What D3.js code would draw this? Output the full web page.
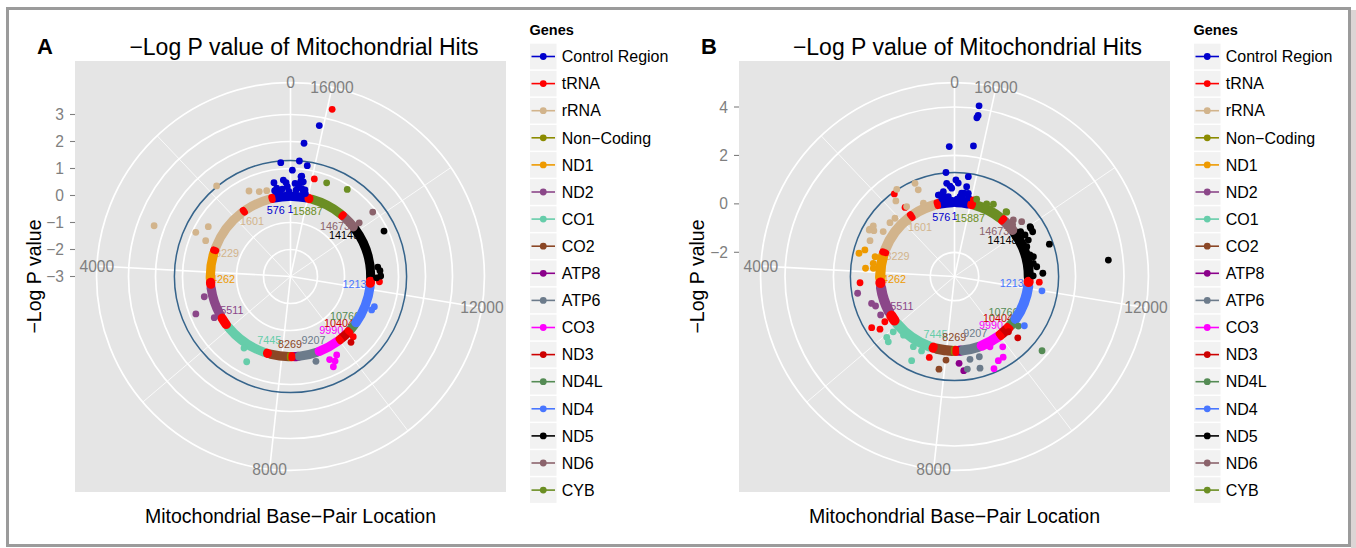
<!DOCTYPE html>
<html>
<head>
<meta charset="utf-8">
<script src="https://cdn.jsdelivr.net/npm/d3@7"></script>
<style>
body { margin: 0; background: #fff; }
svg { display: block; font-family: "Liberation Sans", Arial, Helvetica, sans-serif; }
</style>
</head>
<body>
<svg id="chart" width="1356" height="548"></svg>
<script>
// mitochondrial genome length (theta domain)
var genome = 16569;

var geneKeys = ["CR", "tRNA", "rRNA", "NC", "ND1", "ND2", "CO1", "CO2", "ATP8", "ATP6", "CO3", "ND3", "ND4L", "ND4", "ND5", "ND6", "CYB"];
var geneNames = ["Control Region", "tRNA", "rRNA", "Non\u2212Coding", "ND1", "ND2", "CO1", "CO2", "ATP8", "ATP6", "CO3", "ND3", "ND4L", "ND4", "ND5", "ND6", "CYB"];
var geneColors = ["#0000CD", "#FF0000", "#D2B48C", "#8B8B00", "#EE9A00", "#8B4789", "#66CDAA", "#8B4726", "#8B008B", "#6C7B8B", "#FF00FF", "#CD0000", "#548B54", "#4876FF", "#000000", "#8B636C", "#6B8E23"];

// gene regions [start, end, gene]
var segments = [
    [16024, 16569, "CR"], [0, 576, "CR"], [648, 1601, "rRNA"], [1671, 3229, "rRNA"], [3307, 4262, "ND1"],
    [4470, 5511, "ND2"], [5904, 7445, "CO1"], [7586, 8269, "CO2"], [8270, 8294, "NC"], [8366, 8572, "ATP8"],
    [8527, 9207, "ATP6"], [9207, 9990, "CO3"], [10059, 10404, "ND3"], [10470, 10766, "ND4L"], [10760, 12137, "ND4"],
    [12337, 14148, "ND5"], [14149, 14673, "ND6"], [14747, 15887, "CYB"],
    [577, 647, "tRNA"], [1602, 1670, "tRNA"], [3230, 3304, "tRNA"], [4263, 4469, "tRNA"], [5512, 5903, "tRNA"],
    [7446, 7585, "tRNA"], [8295, 8364, "tRNA"], [9991, 10058, "tRNA"], [10405, 10469, "tRNA"], [12138, 12336, "tRNA"],
    [14674, 14742, "tRNA"], [15888, 16023, "tRNA"]
];

// gene boundary labels [bp, gene]
var boundaryLabels = [
    [1, "CR"], [576, "CR"], [1601, "rRNA"], [3229, "rRNA"], [4262, "ND1"], [5511, "ND2"], [7445, "CO1"], [8269, "CO2"],
    [9207, "ATP6"], [9990, "CO3"], [10404, "ND3"], [10766, "ND4L"], [12137, "ND4"], [14148, "ND5"], [14673, "ND6"], [15887, "CYB"]
];
var labelLevel = -0.5;

var thetaBreaks = [0, 4000, 8000, 12000, 16000];
var thetaMinor = [2000, 6000, 10000, 14000];
var ticksA = [-3, -2, -1, 0, 1, 2, 3];
var ticksB = [-2, 0, 2, 4];
var rangeA = [-3.0, 3.385];
var rangeB = [-3.0, 4.12];
var bandA = [-0.2, 0.14];
var bandB = [-0.14, 0.28];
var threshold = 1.3;

// hits off the main ring [bp, -log P, gene]
var pointsA = [
    [16072, 2.69, "CR"], [16302, 1.96, "CR"], [16367, 1.29, "CR"], [16173, 1.15, "CR"], [225, 1.23, "CR"], [16523, 0.94, "CR"],
    [16293, 0.72, "CR"], [16275, 0.74, "CR"], [460, 0.53, "CR"], [196, 0.58, "CR"], [124, 0.48, "CR"], [93, 0.33, "CR"],
    [16215, 0.54, "CR"], [16344, 0.40, "CR"], [410, 0.31, "CR"], [16132, 0.25, "CR"], [16440, 0.45, "CR"], [16288, 0.53, "CR"],
    [16237, 0.29, "CR"], [482, 0.23, "CR"], [330, 0.17, "CR"], [16180, 0.2, "CR"], [16400, 0.2, "CR"], [50, 0.15, "CR"],
    [250, 0.25, "CR"], [16100, 0.12, "CR"],
    [15925, 3.38, "tRNA"], [15938, 0.72, "tRNA"], [12272, 0.30, "tRNA"], [10410, 0.22, "tRNA"],
    [1804, 1.33, "rRNA"], [1192, 0.52, "rRNA"], [930, 0.35, "rRNA"], [713, 0.30, "rRNA"], [3203, 2.39, "rRNA"],
    [2992, 0.87, "rRNA"], [2706, 0.56, "rRNA"], [3089, 0.41, "rRNA"],
    [5136, 0.77, "ND2"], [4750, 0.28, "ND2"], [5449, 0.21, "ND2"],
    [7033, 0.55, "CO1"], [6765, 0.16, "CO1"],
    [9053, 0.28, "ATP6"],
    [9454, 0.70, "CO3"], [9564, 0.54, "CO3"], [9446, 0.40, "CO3"], [9688, 0.37, "CO3"],
    [10245, 0.31, "ND3"],
    [11396, 0.25, "ND4"], [11517, 0.30, "ND4"],
    [13619, 0.85, "ND5"], [12711, 0.25, "ND5"], [12597, 0.32, "ND5"], [12441, 0.34, "ND5"], [12386, 0.19, "ND5"],
    [14180, 0.87, "ND6"], [14176, 0.23, "ND6"],
    [15598, 0.72, "CYB"], [15046, 0.85, "CYB"]
];

var pointsB = [
    [16192, 4.12, "CR"], [16185, 3.72, "CR"], [16200, 3.62, "CR"], [106, 2.37, "CR"], [16189, 2.45, "CR"], [216, 1.31, "CR"],
    [16206, 1.16, "CR"], [16530, 0.99, "CR"], [517, 0.43, "CR"], [221, 0.86, "CR"], [16463, 0.86, "CR"], [16214, 0.74, "CR"],
    [465, 0.42, "CR"], [16344, 0.45, "CR"], [83, 0.65, "CR"], [131, 0.74, "CR"], [345, 0.53, "CR"], [16270, 0.46, "CR"],
    [16136, 0.48, "CR"], [204, 0.31, "CR"], [16388, 0.31, "CR"], [300, 0.3, "CR"], [16300, 0.3, "CR"], [16100, 0.3, "CR"],
    [420, 0.25, "CR"], [16480, 0.2, "CR"],
    [1661, 1.22, "tRNA"], [1638, 0.51, "tRNA"], [4317, 0.91, "tRNA"], [5601, 1.02, "tRNA"], [5766, 0.77, "tRNA"],
    [5661, 0.43, "tRNA"], [7488, 0.50, "tRNA"], [12249, 0.51, "tRNA"], [15934, 0.26, "tRNA"],
    [1057, 1.18, "rRNA"], [1045, 0.88, "rRNA"], [1542, 1.32, "rRNA"], [1740, 0.95, "rRNA"], [2798, 1.00, "rRNA"],
    [2780, 0.83, "rRNA"], [3084, 0.79, "rRNA"], [2826, 1.01, "rRNA"], [2675, 0.95, "rRNA"], [2310, 0.47, "rRNA"],
    [2099, 0.44, "rRNA"], [2660, 0.48, "rRNA"], [1583, 0.50, "rRNA"], [1058, 0.29, "rRNA"],
    [3383, 0.86, "ND1"], [3512, 1.06, "ND1"], [3898, 0.69, "ND1"], [3720, 0.40, "ND1"], [3498, 0.38, "ND1"], [3875, 0.37, "ND1"],
    [4594, 1.06, "ND2"], [5086, 0.48, "ND2"], [5408, 0.44, "ND2"], [4970, 0.60, "ND2"],
    [7042, 0.90, "CO1"], [7185, 0.36, "CO1"], [6071, 0.76, "CO1"], [6195, 0.84, "CO1"], [6400, 0.21, "CO1"],
    [6886, 0.36, "CO1"], [6080, 0.41, "CO1"],
    [8017, 0.47, "CO2"], [7847, 0.88, "CO2"],
    [8423, 0.59, "ATP8"], [8542, 0.91, "ATP8"],
    [8772, 0.48, "ATP6"], [9076, 0.47, "ATP6"], [8648, 0.86, "ATP6"], [9000, 0.93, "ATP6"],
    [9870, 0.52, "CO3"], [9716, 0.89, "CO3"], [9550, 0.92, "CO3"], [9352, 1.14, "CO3"], [9518, 0.25, "CO3"],
    [10397, 0.64, "ND3"], [10324, 0.19, "ND3"],
    [10572, 1.74, "ND4L"], [10687, 0.34, "ND4L"],
    [11999, 0.66, "ND4"], [10807, 0.53, "ND4"],
    [13915, 0.73, "ND5"], [13798, 0.72, "ND5"], [13292, 1.14, "ND5"], [12707, 3.39, "ND5"], [13075, 0.36, "ND5"],
    [12738, 0.42, "ND5"], [12524, 0.65, "ND5"], [13162, 0.24, "ND5"], [13458, 0.23, "ND5"], [12860, 0.30, "ND5"],
    [13637, 0.40, "ND5"], [13830, 0.38, "ND5"], [13964, 0.74, "ND5"], [12450, 0.25, "ND5"], [14000, 0.3, "ND5"],
    [14447, 0.37, "ND6"], [14231, 0.58, "ND6"], [14350, 0.22, "ND6"],
    [14770, 0.42, "CYB"], [15469, 0.28, "CYB"], [15833, 0.32, "CYB"], [15267, 0.39, "CYB"], [14797, 0.42, "CYB"], [15482, 0.18, "CYB"]
];

var color = d3.scaleOrdinal().domain(geneKeys).range(geneColors);

var svg = d3.select("#chart");

// outer frame
svg.append("rect")
    .attr("x", 1351).attr("y", 10).attr("width", 5).attr("height", 538)
    .attr("fill", "#dcd5d5");
svg.append("rect")
    .attr("x", 7.5).attr("y", 8.5).attr("width", 1342).attr("height", 537)
    .attr("fill", "#fff").attr("stroke", "#9b9b9b").attr("stroke-width", 3);

var panels = [
    { letter: "A", x0: 75, y0: 61, size: 431, range: rangeA, ticks: ticksA, band: bandA, points: pointsA, titleX: 304, yTitleX: 33.5, legendX: 530 },
    { letter: "B", x0: 739, y0: 61, size: 431, range: rangeB, ticks: ticksB, band: bandB, points: pointsB, titleX: 967.5, yTitleX: 697, legendX: 1194 }
];

panels.forEach(function(p) {
    var cx = p.x0 + p.size / 2,
        cy = p.y0 + p.size / 2;

    // counter-clockwise from the top
    var theta = d3.scaleLinear().domain([0, genome]).range([0, -2 * Math.PI]);
    var r = d3.scaleLinear().domain(p.range).range([0, 0.4 * p.size]);
    var rOuter = 0.45 * p.size;

    var px = function(bp, v) { return cx + r(v) * Math.sin(theta(bp)); };
    var py = function(bp, v) { return cy - r(v) * Math.cos(theta(bp)); };

    var g = svg.append("g");

    g.append("rect")
        .attr("x", p.x0).attr("y", p.y0)
        .attr("width", p.size).attr("height", p.size)
        .attr("fill", "#e5e5e5");

    // spokes
    g.selectAll(".minor").data(thetaMinor).enter().append("line")
        .attr("x1", cx).attr("y1", cy)
        .attr("x2", function(d) { return cx + rOuter * Math.sin(theta(d)); })
        .attr("y2", function(d) { return cy - rOuter * Math.cos(theta(d)); })
        .attr("stroke", "#fff").attr("stroke-width", 0.8);
    g.selectAll(".major").data(thetaBreaks).enter().append("line")
        .attr("x1", cx).attr("y1", cy)
        .attr("x2", function(d) { return cx + rOuter * Math.sin(theta(d)); })
        .attr("y2", function(d) { return cy - rOuter * Math.cos(theta(d)); })
        .attr("stroke", "#fff").attr("stroke-width", 1.6);

    // radial grid
    var rings = p.ticks.map(function(t) { return r(t); }).filter(function(d) { return d > 0.5; });
    rings.push(rOuter);
    g.selectAll(".ring").data(rings).enter().append("circle")
        .attr("cx", cx).attr("cy", cy).attr("r", function(d) { return d; })
        .attr("fill", "none").attr("stroke", "#fff").attr("stroke-width", 1.7);

    // theta labels
    g.selectAll(".tlab").data(thetaBreaks).enter().append("text")
        .attr("x", function(d) { return cx + rOuter * Math.sin(theta(d)); })
        .attr("y", function(d) { return cy - rOuter * Math.cos(theta(d)); })
        .attr("dy", "0.36em")
        .attr("text-anchor", "middle")
        .attr("font-size", "15.6px")
        .attr("fill", "#7f7f7f")
        .text(function(d) { return d; });

    // r axis on the left
    var yAxis = g.selectAll(".ytick").data(p.ticks).enter().append("g")
        .attr("transform", function(d) { return "translate(0," + (cy - r(d)) + ")"; });
    yAxis.append("line")
        .attr("x1", p.x0 - 5).attr("x2", p.x0)
        .attr("stroke", "#7f7f7f").attr("stroke-width", 1.1);
    yAxis.append("text")
        .attr("x", p.x0 - 11).attr("dy", "0.36em")
        .attr("text-anchor", "end")
        .attr("font-size", "15.6px")
        .attr("fill", "#7f7f7f")
        .text(function(d) { return d < 0 ? "\u2212" + Math.abs(d) : d; });

    // gene boundary labels
    g.selectAll(".blab").data(boundaryLabels).enter().append("text")
        .attr("x", function(d) { return px(d[0], labelLevel); })
        .attr("y", function(d) { return py(d[0], labelLevel); })
        .attr("dy", "0.36em")
        .attr("text-anchor", "middle")
        .attr("font-size", "10.8px")
        .attr("fill", function(d) { return color(d[1]); })
        .text(function(d) { return d[0]; });

    // significance line
    g.append("circle")
        .attr("cx", cx).attr("cy", cy).attr("r", r(threshold))
        .attr("fill", "none").attr("stroke", "#36648b").attr("stroke-width", 1.5);

    // main ring of hits per region
    var rIn = r(p.band[0]), rOut = r(p.band[1]);
    var rMid = (rIn + rOut) / 2;
    var arc = d3.arc()
        .innerRadius(rIn).outerRadius(rOut)
        .cornerRadius((rOut - rIn) / 2)
        .startAngle(function(d) { return theta(d[1]) - (d[2] === "tRNA" ? 2.4 : 3.2) / rMid; })
        .endAngle(function(d) { return theta(d[0]) + (d[2] === "tRNA" ? 2.4 : 3.2) / rMid; });
    g.append("g").attr("transform", "translate(" + cx + "," + cy + ")")
        .selectAll("path").data(segments).enter().append("path")
        .attr("d", arc)
        .attr("fill", function(d) { return color(d[2]); });

    // hits
    g.selectAll(".hit").data(p.points).enter().append("circle")
        .attr("cx", function(d) { return px(d[0], d[1]); })
        .attr("cy", function(d) { return py(d[0], d[1]); })
        .attr("r", 3.4)
        .attr("fill", function(d) { return color(d[2]); });

    // titles
    svg.append("text")
        .attr("x", p.titleX).attr("y", 55)
        .attr("text-anchor", "middle")
        .attr("font-size", "23px")
        .text("\u2212Log P value of Mitochondrial Hits");
    svg.append("text")
        .attr("x", p.x0 - 38).attr("y", 54)
        .attr("font-size", "22px").attr("font-weight", "bold")
        .text(p.letter);
    svg.append("text")
        .attr("x", cx).attr("y", 523)
        .attr("text-anchor", "middle")
        .attr("font-size", "19.5px")
        .text("Mitochondrial Base\u2212Pair Location");
    svg.append("text")
        .attr("transform", "translate(" + p.yTitleX + "," + cy + ") rotate(-90)")
        .attr("dy", "0.36em")
        .attr("text-anchor", "middle")
        .attr("font-size", "19.5px")
        .text("\u2212Log P value");

    // legend
    var lg = svg.append("g").attr("transform", "translate(" + p.legendX + ",0)");
    lg.append("text")
        .attr("x", -0.5).attr("y", 35)
        .attr("font-size", "14.5px").attr("font-weight", "bold")
        .text("Genes");
    var item = lg.selectAll(".key").data(geneKeys).enter().append("g")
        .attr("transform", function(d, i) { return "translate(0," + (56.5 + i * 27.1) + ")"; });
    item.append("rect")
        .attr("x", 0).attr("y", -12.8).attr("width", 26.5).attr("height", 25.6)
        .attr("fill", "#f2f2f2");
    item.append("line")
        .attr("x1", 1.5).attr("x2", 25)
        .attr("stroke", function(d) { return color(d); })
        .attr("stroke-width", 1.6);
    item.append("circle")
        .attr("cx", 13.25).attr("r", 3.4)
        .attr("fill", function(d) { return color(d); });
    item.append("text")
        .attr("x", 31.7).attr("dy", "0.36em")
        .attr("font-size", "16px")
        .text(function(d, i) { return geneNames[i]; });
});
</script>
</body>
</html>
